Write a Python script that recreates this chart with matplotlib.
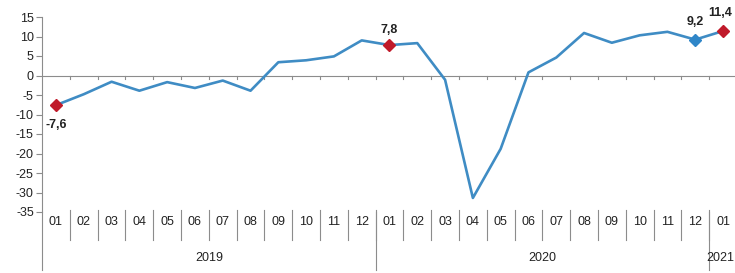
import matplotlib.pyplot as plt
from matplotlib.transforms import blended_transform_factory

plt.rcParams['font.family'] = ['Liberation Sans', 'DejaVu Sans']
plt.rcParams['axes.unicode_minus'] = False

# monthly values, 2019-01 .. 2021-01
months = ['01', '02', '03', '04', '05', '06', '07', '08', '09', '10', '11', '12',
          '01', '02', '03', '04', '05', '06', '07', '08', '09', '10', '11', '12',
          '01']
values = [-7.6, -4.8, -1.6, -3.9, -1.7, -3.2, -1.3, -3.9, 3.4, 3.9, 4.9, 9.0,
          7.8, 8.3, -1.1, -31.4, -18.8, 0.8, 4.6, 10.9, 8.4, 10.3, 11.2, 9.2,
          11.4]
years = ['2019', '2020', '2021']
year_lengths = [12, 12, 1]

red_points = [0, 12, 24]
blue_points = [23]
point_labels = {0: '-7,6', 12: '7,8', 23: '9,2', 24: '11,4'}
label_offsets = {0: (0, -14), 12: (0, 11), 23: (0, 13), 24: (-2, 13)}

line_color = '#3f8cc4'
red_color = '#c01a2a'
axis_color = '#8c8c8c'

fig = plt.figure(figsize=(7.35, 2.73), dpi=100)
ax = fig.add_axes([42.1 / 735, 1 - 212 / 273, (736.9 - 42.1) / 735, 195 / 273])

x = list(range(len(values)))
ax.plot(x, values, color=line_color, linewidth=1.9, zorder=3)
ax.plot([x[i] for i in red_points], [values[i] for i in red_points], linestyle='none',
        marker='D', markersize=6.5, color=red_color, zorder=4)
ax.plot([x[i] for i in blue_points], [values[i] for i in blue_points], linestyle='none',
        marker='D', markersize=6.5, color='#2f86c8', zorder=4)

for i, txt in point_labels.items():
    ax.annotate(txt, (x[i], values[i]), xytext=label_offsets[i], textcoords='offset points',
                ha='center', va='center', fontsize=9, fontweight='bold', color='#222222')

ax.set_xlim(-0.5, len(values) - 0.5)
ax.set_ylim(-35, 15)
ax.set_yticks(range(-35, 16, 5))
ax.tick_params(axis='y', direction='out', length=4, color=axis_color, labelsize=9,
               labelcolor='#222222', pad=2)
ax.set_xticks([])

for side in ['top', 'right', 'bottom']:
    ax.spines[side].set_visible(False)
ax.spines['left'].set_color(axis_color)
ax.spines['left'].set_linewidth(0.8)

# zero line with category ticks
ax.axhline(0, color=axis_color, linewidth=0.8, zorder=1)
for b in range(len(values)):
    ax.plot([b + 0.5, b + 0.5], [0, -0.8], color=axis_color, linewidth=0.8, zorder=1)

# category labels under the plot
trans = blended_transform_factory(ax.transData, ax.transAxes)
for i, m in enumerate(months):
    ax.text(i, -0.051, m, transform=trans, ha='center', va='center', fontsize=9,
            color='#222222')
for b in range(1, len(values)):
    ax.plot([b - 0.5, b - 0.5], [0.01, -0.145], transform=trans, color=axis_color,
            linewidth=0.8, clip_on=False)

start = 0
for yr, n in zip(years, year_lengths):
    ax.plot([start - 0.5, start - 0.5], [0.0, -0.297], transform=trans, color=axis_color,
            linewidth=0.8, clip_on=False)
    if n > 1:
        ax.text(start + (n - 1) / 2, -0.236, yr, transform=trans, ha='center', va='center',
                fontsize=9, color='#222222')
    else:
        # last year sits against the right edge of the figure
        fig.text(734 / 735, 1 - 258 / 273, yr, ha='right', va='center', fontsize=9,
                 color='#222222')
    start += n

fig.savefig('out.png', dpi=100)
